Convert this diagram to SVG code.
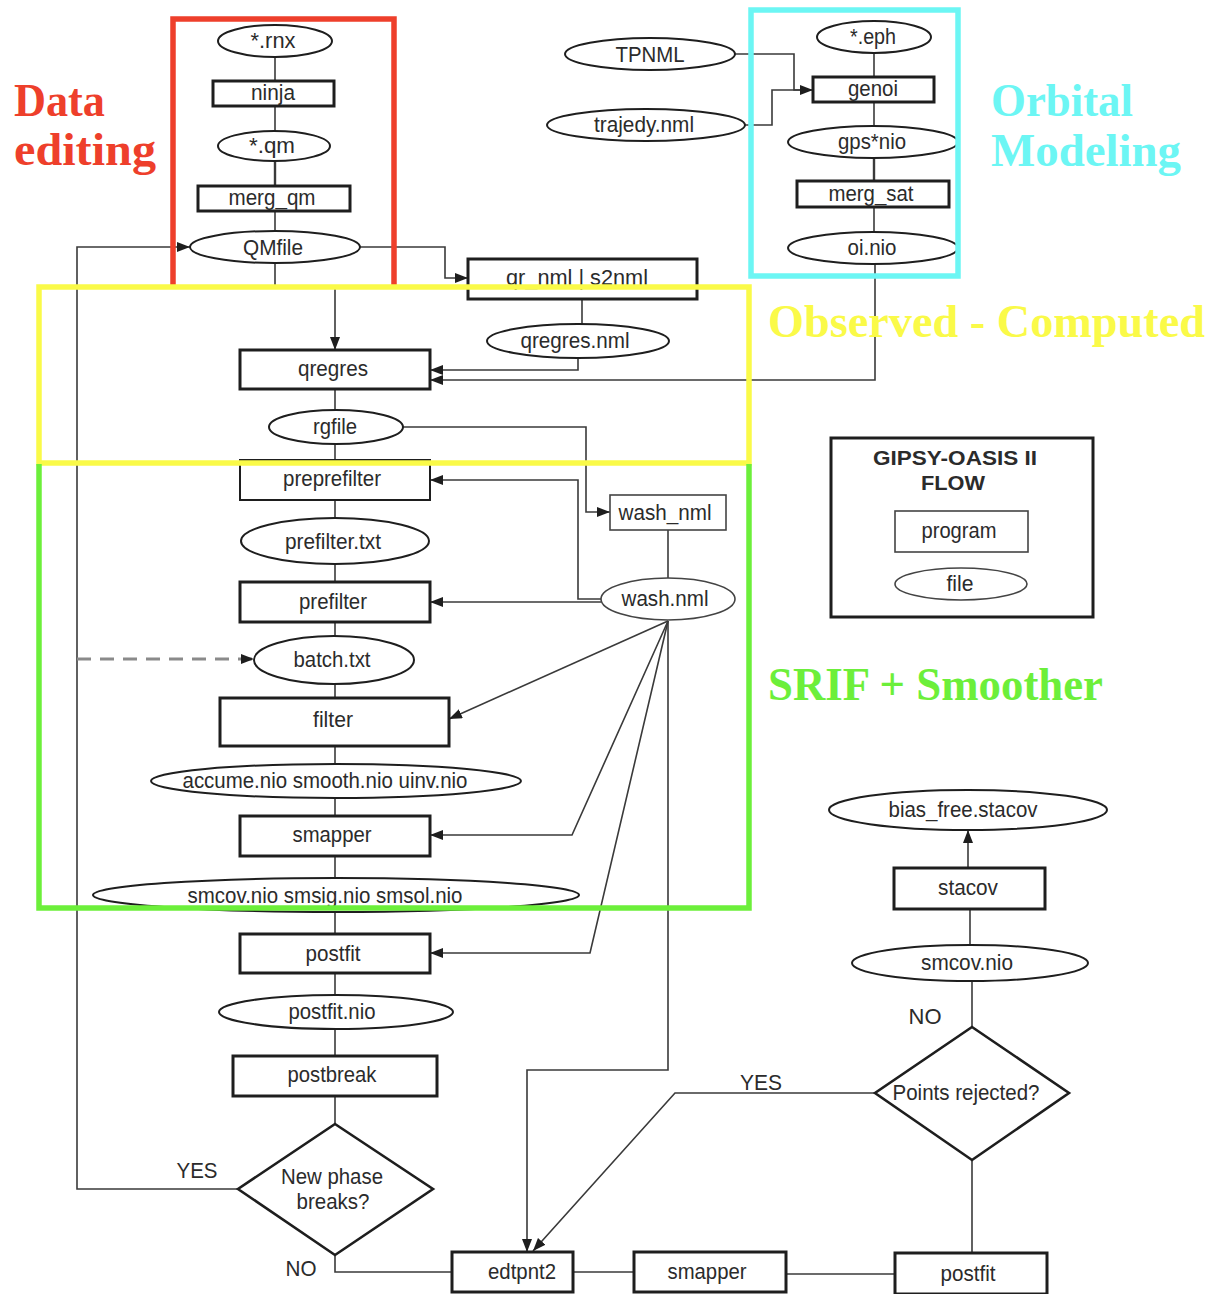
<svg xmlns="http://www.w3.org/2000/svg" width="1213" height="1294" viewBox="0 0 1213 1294">
<style>
.bg{fill:#fff}
.c{fill:none;stroke:#3a3a3a;stroke-width:1.6}
.ca{fill:none;stroke:#3a3a3a;stroke-width:1.6;marker-end:url(#ah)}
.dash{fill:none;stroke:#8a8a8a;stroke-width:3;stroke-dasharray:14 9;marker-end:url(#ah)}
.p{fill:#fff;stroke:#1e1e1e;stroke-width:3}
.pt{fill:#fff;stroke:#444;stroke-width:1.6}
.f{fill:#fff;stroke:#1e1e1e;stroke-width:2}
.d{fill:#fff;stroke:#1e1e1e;stroke-width:2.6}
.t{font-family:"Liberation Sans",Arial,sans-serif;font-size:22px;fill:#2b2b2b;text-anchor:middle}
.tl{font-family:"Liberation Sans",Arial,sans-serif;font-size:22px;fill:#2b2b2b}
.tb{font-family:"Liberation Sans",Arial,sans-serif;font-size:21px;font-weight:bold;fill:#2b2b2b;text-anchor:middle}
.big{font-family:"Liberation Serif","Times New Roman",serif;font-size:46px;font-weight:bold}
.reg{fill:none;stroke-width:5.5}
</style>
<defs>
<marker id="ah" markerUnits="userSpaceOnUse" markerWidth="14" markerHeight="12" refX="13" refY="5" orient="auto">
<path d="M0,0 L13,5 L0,10 z" fill="#1e1e1e"/>
</marker>
</defs>
<rect class="bg" x="0" y="0" width="1213" height="1294"/>

<g id="connectors">
<path class="c" d="M275,57 V81"/>
<path class="c" d="M275,106 V131"/>
<path class="c" d="M275,161 V186" style="stroke-width:2.4"/>
<path class="c" d="M275,211 V231"/>
<path class="ca" d="M275,263 V287 H335 V350"/>
<path class="ca" d="M360,247 H445 V278 H468"/>
<path class="ca" d="M238,1189 H77 V247 H190"/>
<path class="c" d="M582,299 V324"/>
<path class="ca" d="M578,358 V370 H430"/>
<path class="ca" d="M875,264 V380 H430"/>
<path class="c" d="M335,389 V410"/>
<path class="c" d="M335,444 V460"/>
<path class="ca" d="M403,427 H586 V512 H610"/>
<path class="c" d="M668,530 V578"/>
<path class="ca" d="M601,599 H578 V480 H430"/>
<path class="ca" d="M601,602 H430"/>
<path class="c" d="M335,500 V518"/>
<path class="c" d="M335,564 V582"/>
<path class="c" d="M335,622 V636"/>
<path class="dash" d="M77,659 H254"/>
<path class="c" d="M335,684 V698"/>
<path class="ca" d="M668,621 L449,719"/>
<path class="c" d="M335,746 V764"/>
<path class="c" d="M335,798 V816"/>
<path class="ca" d="M668,621 L572,835 H430"/>
<path class="c" d="M335,856 V878"/>
<path class="c" d="M335,912 V934"/>
<path class="ca" d="M668,621 L590,953 H430"/>
<path class="c" d="M335,973 V995"/>
<path class="c" d="M335,1029 V1056"/>
<path class="c" d="M335,1096 V1124"/>
<path class="c" d="M335,1255 V1272 H452"/>
<path class="ca" d="M668,621 V1070 H527 V1252"/>
<path class="c" d="M573,1272 H634"/>
<path class="c" d="M786,1274 H895"/>
<path class="c" d="M972,1253 V1160"/>
<path class="ca" d="M875,1093 H675 L533,1251"/>
<path class="c" d="M972,1027 V981"/>
<path class="c" d="M970,945 V909"/>
<path class="ca" d="M968,868 V830"/>
<path class="c" d="M874,53 V77"/>
<path class="ca" d="M735,54 H794 V90 H813"/>
<path class="c" d="M745,125 H772 V90 H800"/>
<path class="c" d="M874,102 V126"/>
<path class="c" d="M874,158 V181" style="stroke-width:2.4"/>
<path class="c" d="M874,207 V232"/>
</g>

<g id="n-rnx"><ellipse class="f" cx="275" cy="41" rx="57" ry="16"/><text class="t" x="273" y="48" textLength="45" lengthAdjust="spacingAndGlyphs">*.rnx</text></g>
<g id="n-ninja"><rect class="p" x="213" y="81" width="121" height="25"/><text class="t" x="273" y="100" textLength="44" lengthAdjust="spacingAndGlyphs">ninja</text></g>
<g id="n-qm"><ellipse class="f" cx="274" cy="146" rx="56" ry="15"/><text class="t" x="272" y="153" textLength="46" lengthAdjust="spacingAndGlyphs">*.qm</text></g>
<g id="n-merg_qm"><rect class="p" x="198" y="186" width="152" height="25"/><text class="t" x="272" y="205" textLength="87" lengthAdjust="spacingAndGlyphs">merg_qm</text></g>
<g id="n-QMfile"><ellipse class="f" cx="275" cy="247" rx="85" ry="16"/><text class="t" x="273" y="255" textLength="60" lengthAdjust="spacingAndGlyphs">QMfile</text></g>

<g id="n-TPNML"><ellipse class="f" cx="650" cy="54" rx="85" ry="16"/><text class="t" x="650" y="62" textLength="69" lengthAdjust="spacingAndGlyphs">TPNML</text></g>
<g id="n-trajedy"><ellipse class="f" cx="646" cy="125" rx="99" ry="16"/><text class="t" x="644" y="132" textLength="100" lengthAdjust="spacingAndGlyphs">trajedy.nml</text></g>
<g id="n-eph"><ellipse class="f" cx="874" cy="37" rx="57" ry="16"/><text class="t" x="873" y="44" textLength="46" lengthAdjust="spacingAndGlyphs">*.eph</text></g>
<g id="n-genoi"><rect class="p" x="813" y="77" width="121" height="25"/><text class="t" x="873" y="96" textLength="50" lengthAdjust="spacingAndGlyphs">genoi</text></g>
<g id="n-gpsnio"><ellipse class="f" cx="873" cy="142" rx="85" ry="16"/><text class="t" x="872" y="149" textLength="68" lengthAdjust="spacingAndGlyphs">gps*nio</text></g>
<g id="n-merg_sat"><rect class="p" x="797" y="181" width="152" height="26"/><text class="t" x="871" y="201" textLength="85" lengthAdjust="spacingAndGlyphs">merg_sat</text></g>
<g id="n-oinio"><ellipse class="f" cx="873" cy="248" rx="85" ry="16"/><text class="t" x="872" y="255" textLength="49" lengthAdjust="spacingAndGlyphs">oi.nio</text></g>

<g id="n-qr_nml"><rect class="p" x="468" y="259" width="229" height="40"/><text class="t" x="577" y="285" textLength="142" lengthAdjust="spacingAndGlyphs">qr_nml | s2nml</text></g>
<g id="n-qregresnml"><ellipse class="f" cx="578" cy="341" rx="91" ry="17"/><text class="t" x="575" y="348" textLength="109" lengthAdjust="spacingAndGlyphs">qregres.nml</text></g>
<g id="n-qregres"><rect class="p" x="240" y="350" width="190" height="39"/><text class="t" x="333" y="376" textLength="70" lengthAdjust="spacingAndGlyphs">qregres</text></g>
<g id="n-rgfile"><ellipse class="f" cx="336" cy="427" rx="67" ry="17"/><text class="t" x="335" y="434" textLength="44" lengthAdjust="spacingAndGlyphs">rgfile</text></g>
<g id="n-preprefilter"><rect class="p" x="240" y="460" width="190" height="40" style="stroke-width:2"/><text class="t" x="332" y="486" textLength="98" lengthAdjust="spacingAndGlyphs">preprefilter</text></g>
<g id="n-prefiltertxt"><ellipse class="f" cx="335" cy="541" rx="94" ry="23"/><text class="t" x="333" y="549" textLength="96" lengthAdjust="spacingAndGlyphs">prefilter.txt</text></g>
<g id="n-prefilter"><rect class="p" x="240" y="582" width="190" height="40"/><text class="t" x="333" y="609" textLength="68" lengthAdjust="spacingAndGlyphs">prefilter</text></g>
<g id="n-batch"><ellipse class="f" cx="334" cy="660" rx="80" ry="24"/><text class="t" x="332" y="667" textLength="77" lengthAdjust="spacingAndGlyphs">batch.txt</text></g>
<g id="n-filter"><rect class="p" x="220" y="698" width="229" height="48"/><text class="t" x="333" y="727" textLength="40" lengthAdjust="spacingAndGlyphs">filter</text></g>
<g id="n-accume"><ellipse class="f" cx="336" cy="781" rx="185" ry="17"/><text class="t" x="325" y="788" textLength="285" lengthAdjust="spacingAndGlyphs">accume.nio smooth.nio uinv.nio</text></g>
<g id="n-smapper1"><rect class="p" x="240" y="816" width="190" height="40"/><text class="t" x="332" y="842" textLength="79" lengthAdjust="spacingAndGlyphs">smapper</text></g>
<g id="n-smcov1"><ellipse class="f" cx="336" cy="895" rx="243" ry="17"/><text class="t" x="325" y="903" textLength="275" lengthAdjust="spacingAndGlyphs">smcov.nio smsig.nio smsol.nio</text></g>
<g id="n-postfit1"><rect class="p" x="240" y="934" width="190" height="39"/><text class="t" x="333" y="961" textLength="55" lengthAdjust="spacingAndGlyphs">postfit</text></g>
<g id="n-postfitnio"><ellipse class="f" cx="336" cy="1012" rx="117" ry="17"/><text class="t" x="332" y="1019" textLength="87" lengthAdjust="spacingAndGlyphs">postfit.nio</text></g>
<g id="n-postbreak"><rect class="p" x="233" y="1056" width="204" height="40"/><text class="t" x="332" y="1082" textLength="89" lengthAdjust="spacingAndGlyphs">postbreak</text></g>
<g id="n-newphase"><polygon class="d" points="335,1124 433,1189 335,1255 238,1189"/><text class="t" x="332" y="1184" textLength="102" lengthAdjust="spacingAndGlyphs">New phase</text><text class="t" x="333" y="1209" textLength="73" lengthAdjust="spacingAndGlyphs">breaks?</text></g>
<g id="lbl-yes1"><text class="t" x="197" y="1178" textLength="41" lengthAdjust="spacingAndGlyphs">YES</text></g>
<g id="lbl-no1"><text class="t" x="301" y="1276" textLength="31" lengthAdjust="spacingAndGlyphs">NO</text></g>

<g id="n-washnml-prog"><rect class="pt" x="610" y="495" width="116" height="35"/><text class="t" x="665" y="520" textLength="93" lengthAdjust="spacingAndGlyphs">wash_nml</text></g>
<g id="n-washnml"><ellipse class="pt" cx="668" cy="599" rx="67" ry="21"/><text class="t" x="665" y="606" textLength="87" lengthAdjust="spacingAndGlyphs">wash.nml</text></g>

<g id="n-edtpnt2"><rect class="p" x="452" y="1252" width="121" height="40"/><text class="t" x="522" y="1279" textLength="68" lengthAdjust="spacingAndGlyphs">edtpnt2</text></g>
<g id="n-smapper2"><rect class="p" x="634" y="1252" width="152" height="40"/><text class="t" x="707" y="1279" textLength="79" lengthAdjust="spacingAndGlyphs">smapper</text></g>
<g id="n-postfit2"><rect class="p" x="895" y="1253" width="152" height="41"/><text class="t" x="968" y="1281" textLength="55" lengthAdjust="spacingAndGlyphs">postfit</text></g>
<g id="n-rejected"><polygon class="d" points="972,1027 1069,1093 972,1160 875,1093"/><text class="t" x="966" y="1100" textLength="147" lengthAdjust="spacingAndGlyphs">Points rejected?</text></g>
<g id="lbl-yes2"><text class="t" x="761" y="1090" textLength="42" lengthAdjust="spacingAndGlyphs">YES</text></g>
<g id="lbl-no2"><text class="t" x="925" y="1024" textLength="33" lengthAdjust="spacingAndGlyphs">NO</text></g>
<g id="n-smcov2"><ellipse class="f" cx="970" cy="963" rx="118" ry="18"/><text class="t" x="967" y="970" textLength="92" lengthAdjust="spacingAndGlyphs">smcov.nio</text></g>
<g id="n-stacov"><rect class="p" x="894" y="868" width="151" height="41"/><text class="t" x="968" y="895" textLength="60" lengthAdjust="spacingAndGlyphs">stacov</text></g>
<g id="n-biasfree"><ellipse class="f" cx="968" cy="810" rx="139" ry="20"/><text class="t" x="963" y="817" textLength="149" lengthAdjust="spacingAndGlyphs">bias_free.stacov</text></g>

<g id="legend">
<rect fill="#fff" stroke="#1e1e1e" stroke-width="3" x="831" y="438" width="262" height="179"/>
<text class="tb" x="955" y="465" textLength="164" lengthAdjust="spacingAndGlyphs">GIPSY-OASIS II</text>
<text class="tb" x="953" y="490" textLength="64" lengthAdjust="spacingAndGlyphs">FLOW</text>
<rect class="pt" x="895" y="511" width="133" height="41"/>
<text class="t" x="959" y="538" textLength="75" lengthAdjust="spacingAndGlyphs">program</text>
<ellipse class="pt" cx="961" cy="584" rx="66" ry="16"/>
<text class="t" x="960" y="591" textLength="27" lengthAdjust="spacingAndGlyphs">file</text>
</g>

<g id="regions">
<path class="reg" stroke="#ee3f2b" d="M173,286 V19 H394 V286"/>
<rect class="reg" stroke="#6cf6f4" x="751" y="10" width="207" height="266"/>
<rect class="reg" stroke="#fafa48" x="39" y="287" width="710" height="176"/>
<path class="reg" stroke="#6cef3a" d="M39,464 V908 H749 V464"/>
<text class="big" fill="#ee3f2b" x="14" y="116" textLength="91" lengthAdjust="spacingAndGlyphs">Data</text>
<text class="big" fill="#ee3f2b" x="14" y="165" textLength="142" lengthAdjust="spacingAndGlyphs">editing</text>
<text class="big" fill="#6cf6f4" x="991" y="116" textLength="142" lengthAdjust="spacingAndGlyphs">Orbital</text>
<text class="big" fill="#6cf6f4" x="991" y="166" textLength="190" lengthAdjust="spacingAndGlyphs">Modeling</text>
<text class="big" fill="#fafa48" x="768" y="337" textLength="437" lengthAdjust="spacingAndGlyphs">Observed - Computed</text>
<text class="big" fill="#6cef3a" x="768" y="700" textLength="335" lengthAdjust="spacingAndGlyphs">SRIF + Smoother</text>
</g>
</svg>
